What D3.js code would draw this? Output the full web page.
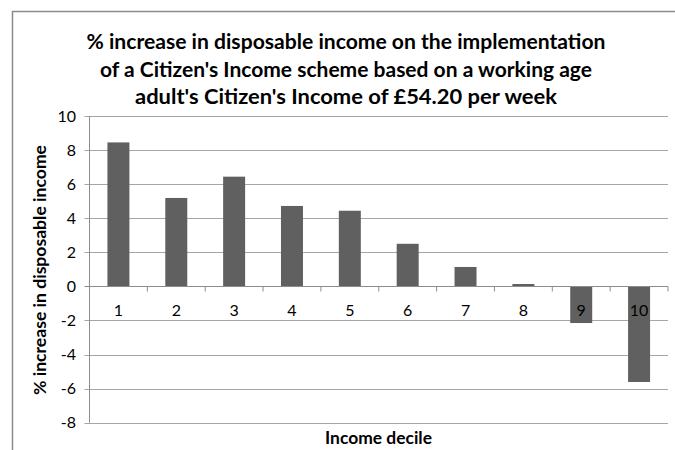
<!DOCTYPE html>
<html>
<head>
<meta charset="utf-8">
<script src="https://cdn.jsdelivr.net/npm/d3@7"></script>
<style>
  body { margin: 0; background: #fff; }
  text { font-family: Lato, "Open Sans", sans-serif; fill: #000; }
</style>
</head>
<body>
<svg id="chart" width="675" height="450"></svg>
<script>
// Data
const deciles = ['1', '2', '3', '4', '5', '6', '7', '8', '9', '10'];
const increase = [8.45, 5.19, 6.44, 4.72, 4.44, 2.5, 1.14, 0.14, -2.15, -5.61];
const yTicks = [10, 8, 6, 4, 2, 0, -2, -4, -6, -8];
const titleLines = [
    '% increase in disposable income on the implementation',
    "of a Citizen's Income scheme based on a working age",
    "adult's Citizen's Income of £54.20 per week"
];

const svg = d3.select('#chart');

// outer chart frame (left + top visible)
svg.append('path')
    .attr('d', 'M12.5,452 V11.5 H680')
    .style('fill', 'none')
    .style('stroke', '#8c8c8c')
    .style('stroke-width', 1.5);

const plotLeft = 89.5, plotRight = 668, plotTop = 116, plotBottom = 422.7;

const x = d3.scaleBand().domain(deciles).range([plotLeft, plotRight]);
const y = d3.scaleLinear().domain([-8, 10]).range([plotBottom, plotTop]);

// gridlines
svg.append('g')
    .selectAll('line')
    .data(yTicks.filter(d => d !== 0))
    .enter()
    .append('line')
    .attr('x1', plotLeft - 5)
    .attr('x2', plotRight)
    .attr('y1', d => Math.round(y(d)) + 0.5)
    .attr('y2', d => Math.round(y(d)) + 0.5)
    .style('stroke', '#a6a6a6')
    .style('stroke-width', 1);

// bars
const barW = x.bandwidth() * 0.38;
svg.append('g')
    .selectAll('rect')
    .data(increase)
    .enter()
    .append('rect')
    .attr('x', (d, i) => x(deciles[i]) + (x.bandwidth() - barW) / 2)
    .attr('y', d => y(Math.max(0, d)))
    .attr('width', barW)
    .attr('height', d => Math.abs(y(d) - y(0)))
    .style('fill', '#606060');

// y axis line
svg.append('line')
    .attr('x1', plotLeft).attr('x2', plotLeft)
    .attr('y1', plotTop).attr('y2', plotBottom)
    .style('stroke', '#8c8c8c');

// zero line with category ticks
const y0 = Math.round(y(0)) + 0.5;
svg.append('line')
    .attr('x1', plotLeft - 5).attr('x2', plotRight)
    .attr('y1', y0).attr('y2', y0)
    .style('stroke', '#8c8c8c');

svg.append('g')
    .selectAll('line')
    .data(deciles.slice(1).concat(['end']))
    .enter()
    .append('line')
    .attr('x1', d => d === 'end' ? plotRight : x(d))
    .attr('x2', d => d === 'end' ? plotRight : x(d))
    .attr('y1', y0)
    .attr('y2', y0 + 5)
    .style('stroke', '#8c8c8c');

// y tick labels
svg.append('g')
    .selectAll('text')
    .data(yTicks)
    .enter()
    .append('text')
    .attr('x', 76)
    .attr('y', d => y(d))
    .attr('dy', '0.35em')
    .attr('text-anchor', 'end')
    .style('font-size', '16px')
    .text(d => d);

// category labels
svg.append('g')
    .selectAll('text')
    .data(deciles)
    .enter()
    .append('text')
    .attr('x', d => x(d) + x.bandwidth() / 2)
    .attr('y', 310)
    .attr('dy', '0.35em')
    .attr('text-anchor', 'middle')
    .style('font-size', '16px')
    .text(d => d);

// title
svg.append('g')
    .selectAll('text')
    .data(titleLines)
    .enter()
    .append('text')
    .attr('x', 346)
    .attr('y', (d, i) => 49 + i * 27.5)
    .attr('text-anchor', 'middle')
    .style('font-size', '20px')
    .style('font-weight', 'bold')
    .attr('textLength', (d, i) => [519, 492, 422][i])
    .attr('lengthAdjust', 'spacingAndGlyphs')
    .text(d => d);

// axis titles
svg.append('text')
    .attr('transform', 'translate(46,270) rotate(-90)')
    .attr('text-anchor', 'middle')
    .style('font-size', '17px')
    .style('font-weight', 'bold')
    .attr('textLength', 250)
    .attr('lengthAdjust', 'spacingAndGlyphs')
    .text('% increase in disposable income');

svg.append('text')
    .attr('x', 378.5)
    .attr('y', 443.5)
    .attr('text-anchor', 'middle')
    .style('font-size', '16.5px')
    .style('font-weight', 'bold')
    .attr('textLength', 107)
    .attr('lengthAdjust', 'spacingAndGlyphs')
    .text('Income decile');
</script>
</body>
</html>
